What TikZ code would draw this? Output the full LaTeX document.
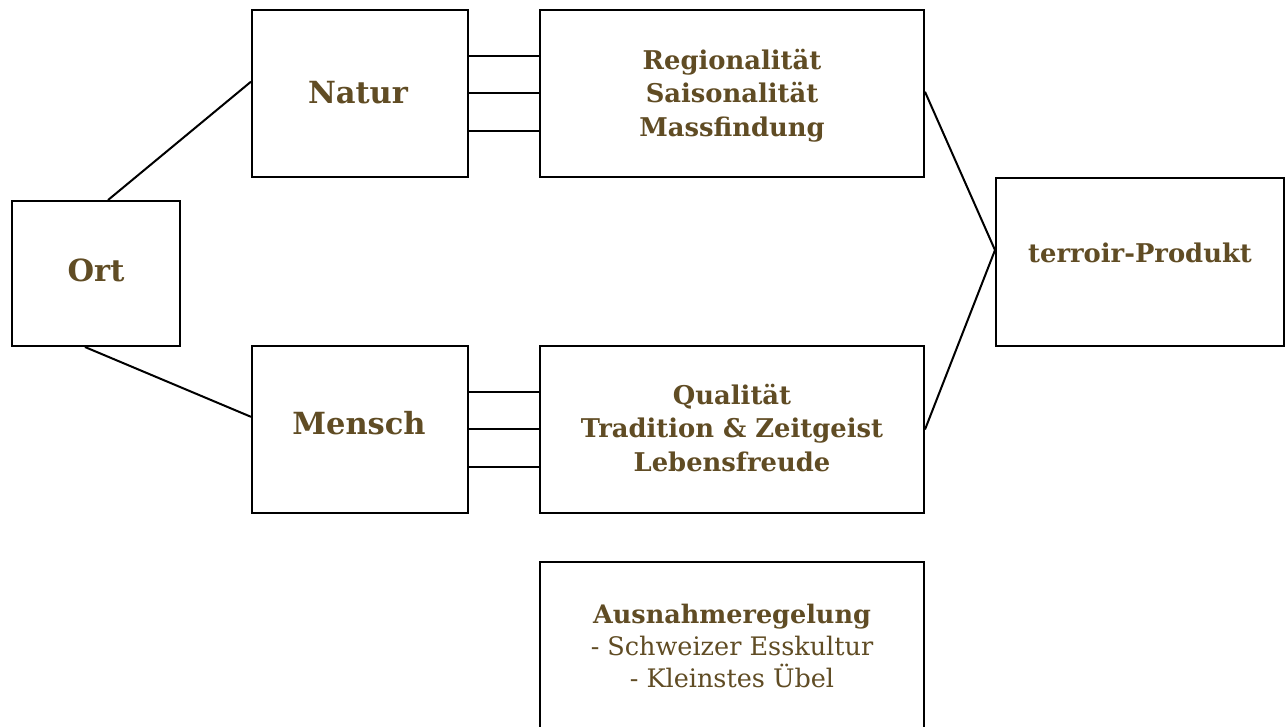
\documentclass[tikz,border=0pt]{standalone}
\usepackage{fontspec}
\setmainfont{DejaVu Serif}
\usetikzlibrary{calc}
\definecolor{txtbrown}{RGB}{96,76,36}
\tikzset{
  box/.style={draw=black, line width=2pt, inner sep=0pt, fill=white},
  conn/.style={draw=black, line width=2pt},
  biglabel/.style={text=txtbrown, font=\bfseries\fontsize{30.5}{34}\selectfont, inner sep=0pt},
  listlabel/.style={text=txtbrown, font=\bfseries\fontsize{25.8}{33.5}\selectfont, align=center, inner sep=0pt},
  plainlabel/.style={text=txtbrown, font=\fontsize{25.5}{32}\selectfont, align=center, inner sep=0pt}
}
\begin{document}
\begin{tikzpicture}[x=1pt,y=-1pt]
\useasboundingbox[fill=white] (0,0) rectangle (1288,726);
% boxes
\node[box, minimum width=168pt, minimum height=145pt] (ort) at (96,273.5) {};
\node[box, minimum width=216pt, minimum height=167pt] (natur) at (360,93.5) {};
\node[box, minimum width=216pt, minimum height=167pt] (mensch) at (360,429.5) {};
\node[box, minimum width=384pt, minimum height=167pt] (reg) at (732,93.5) {};
\node[box, minimum width=384pt, minimum height=167pt] (qual) at (732,429.5) {};
\node[box, minimum width=288pt, minimum height=168pt] (terroir) at (1140,262) {};
\node[box, minimum width=384pt, minimum height=180pt] (aus) at (732,652) {};
% texts
\node[biglabel] (tort) at (96,270) {Ort};
\node[biglabel] (tnatur) at (358,93) {Natur};
\node[biglabel] (tmensch) at (359,423) {Mensch};
\node[listlabel, anchor=base] (treg) at (732,136) {Regionalität\\Saisonalität\\Massfindung};
\node[listlabel, anchor=base] (tqual) at (732,471) {Qualität\\Tradition \& Zeitgeist\\Lebensfreude};
\node[listlabel, anchor=base] (tterroir) at (1140,262) {terroir-Produkt};
\node[plainlabel, anchor=base] (taus) at (732,687) {\textbf{Ausnahmeregelung}\\- Schweizer Esskultur\\- Kleinstes Übel};
% connectors
\draw[conn] ($(ort.north west)!0.571!(ort.north east)$) -- ($(natur.north west)!0.43!(natur.south west)$);
\draw[conn] ($(ort.south west)!0.435!(ort.south east)$) -- ($(mensch.north west)!0.425!(mensch.south west)$);
\foreach \f in {0.28,0.497,0.72}{
  \draw[conn] ($(natur.north east)!\f!(natur.south east)$) -- ($(reg.north west)!\f!(reg.south west)$);
  \draw[conn] ($(mensch.north east)!\f!(mensch.south east)$) -- ($(qual.north west)!\f!(qual.south west)$);
}
\draw[conn] ($(reg.north east)!0.49!(reg.south east)$) -- ($(terroir.north west)!0.43!(terroir.south west)$);
\draw[conn] (qual.east) -- ($(terroir.north west)!0.43!(terroir.south west)$);
\end{tikzpicture}
\end{document}
